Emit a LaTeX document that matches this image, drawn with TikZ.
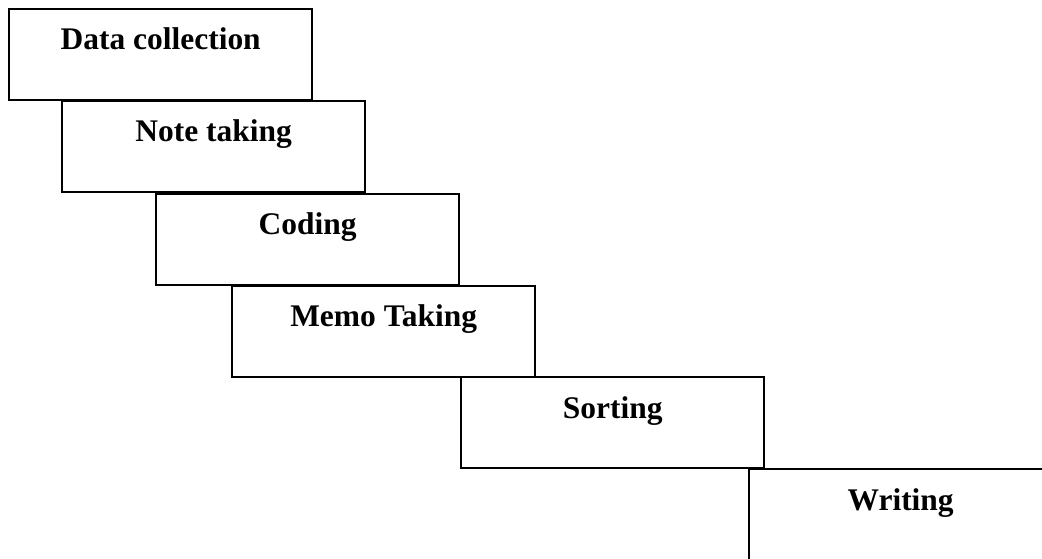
\documentclass[tikz,border=0pt]{standalone}
\usepackage{fontspec}
\setmainfont{Liberation Serif}
\begin{document}
\begin{tikzpicture}[x=0.75pt,y=-0.75pt,
  stage/.style={draw, line width=1.5pt, rectangle, inner sep=0pt, anchor=north west,
                minimum width=227.5pt, minimum height=68.3pt},
  lbl/.style={font=\fontsize{23.6}{28}\selectfont\bfseries, anchor=base, inner sep=0pt, yshift=-31.5pt}]
\useasboundingbox (0,0) rectangle (1042,559);
\clip (0,0) rectangle (1042,559);
\node[stage] (b1) at (8,8) {};
\node[stage] (b2) at (61,100) {};
\node[stage] (b3) at (155,193) {};
\node[stage] (b4) at (231,285) {};
\node[stage] (b5) at (460,376) {};
\node[stage, minimum height=90pt] (b6) at (748,468) {};
\node[lbl] (t1) at (b1.north) {Data collection};
\node[lbl] (t2) at (b2.north) {Note taking};
\node[lbl] (t3) at (b3.north) {Coding};
\node[lbl] (t4) at (b4.north) {Memo Taking};
\node[lbl] (t5) at (b5.north) {Sorting};
\node[lbl] (t6) at (b6.north) {Writing};
\end{tikzpicture}
\end{document}
